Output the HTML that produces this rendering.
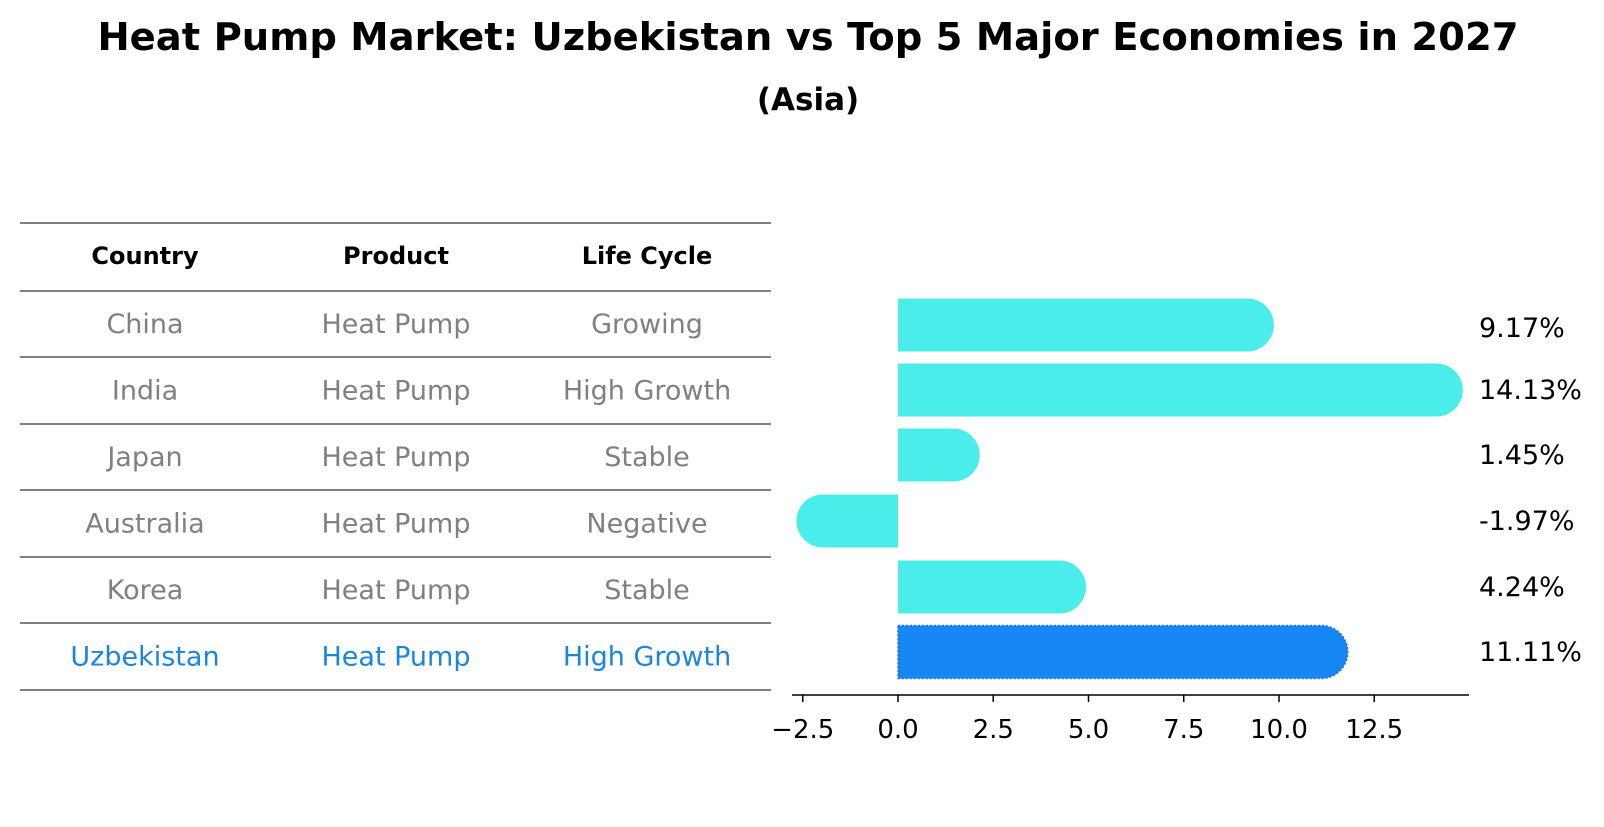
<!DOCTYPE html>
<html><head><meta charset="utf-8"><style>
body{margin:0;background:#fff;font-family:"DejaVu Sans","Liberation Sans",sans-serif}
</style></head><body>
<svg width="1604" height="823" xmlns="http://www.w3.org/2000/svg" font-family="DejaVu Sans, Liberation Sans, sans-serif">
<text x="808" y="50" text-anchor="middle" font-size="38.5" font-weight="bold">Heat Pump Market: Uzbekistan vs Top 5 Major Economies in 2027</text>
<text x="808" y="110" text-anchor="middle" font-size="31" font-weight="bold">(Asia)</text>
<g id="table"></g>
<g id="bars"></g>
</svg>
<script>
const countries=["China","India","Japan","Australia","Korea","Uzbekistan"];
const products=["Heat Pump","Heat Pump","Heat Pump","Heat Pump","Heat Pump","Heat Pump"];
const lifeCycles=["Growing","High Growth","Stable","Negative","Stable","High Growth"];
const growth=[9.17,14.13,1.45,-1.97,4.24,11.11];
const tickValues=[-2.5,0,2.5,5,7.5,10,12.5];
const tickLabels=["\u22122.5","0.0","2.5","5.0","7.5","10.0","12.5"];
const NS="http://www.w3.org/2000/svg";
function mk(t,a,p){const e=document.createElementNS(NS,t);for(const k in a)e.setAttribute(k,a[k]);p.appendChild(e);return e;}
const tbl=document.getElementById('table');
const lines=[223,291,357,424,490,557,623,690];
lines.forEach(y=>{const l=mk('line',{x1:20,x2:771,y1:y,y2:y,stroke:'#000','stroke-width':1},tbl);

});
const cols=[145,396,647];
["Country","Product","Life Cycle"].forEach((h,i)=>{const t=mk('text',{x:cols[i],y:264,'text-anchor':'middle','font-size':24,'font-weight':'bold'},tbl);t.textContent=h;

});
countries.forEach((c,r)=>{const y=(lines[r+1]+lines[r+2])/2+9;const col=r===5?'#1a86e0':'#808080';
[c,products[r],lifeCycles[r]].forEach((v,i)=>{const t=mk('text',{x:cols[i],y:y,'text-anchor':'middle','font-size':27,fill:col},tbl);t.textContent=v;

});});
const bars=document.getElementById('bars');
const x0=898,ppu=38.1;
function xs(v){return x0+v*ppu;}
const centers=[325,390,455,521,587,652];const bh=53,r=26.5;
growth.forEach((v,i)=>{const cy=centers[i];const xe=xs(v);const col=i===5?'#1786f5':'#4aedea';
let d;
if(v>=0){d=`M${x0},${cy-bh/2} L${xe},${cy-bh/2} A${r},${r} 0 0 1 ${xe},${cy+bh/2} L${x0},${cy+bh/2} Z`;}
else{d=`M${x0},${cy-bh/2} L${xe},${cy-bh/2} A${r},${r} 0 0 0 ${xe},${cy+bh/2} L${x0},${cy+bh/2} Z`;}
const p=mk('path',{d:d,fill:col},bars);
if(i===5){p.setAttribute('stroke','#2a6fd0');p.setAttribute('stroke-dasharray','2 2');p.setAttribute('stroke-width','1.5');}


const t=mk('text',{x:1479,y:cy+9+(i===0?3:0),'font-size':27},bars);t.textContent=v.toFixed(2)+'%';

});
const ax=mk('line',{x1:792,x2:1469,y1:695,y2:695,stroke:'#000','stroke-width':1.5},bars);


tickValues.forEach((v,i)=>{const x=xs(v);const tk=mk('line',{x1:x,x2:x,y1:695,y2:702,stroke:'#000','stroke-width':1.5},bars);


const t=mk('text',{x:x,y:738,'text-anchor':'middle','font-size':26},bars);t.textContent=tickLabels[i];

});
</script>
</body></html>
